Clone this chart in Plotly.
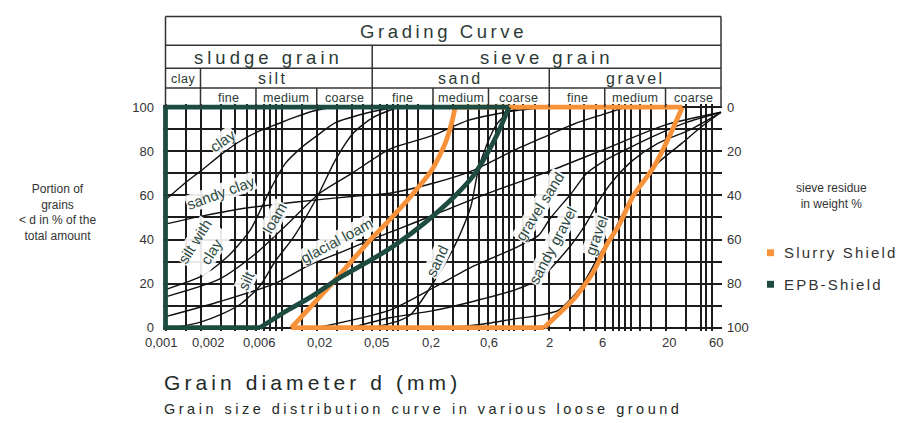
import numpy as np
import plotly.graph_objects as go

W, H = 901, 423

# ---------------- axis data ----------------
x_tick_vals = [0.001, 0.002, 0.006, 0.02, 0.06, 0.2, 0.6, 2, 6, 20, 60]
x_tick_text = ["0,001", "0,002", "0,006", "0,02", "0,05", "0,2", "0,6", "2", "6", "20", "60"]
# horizontal nudge of each tick caption, in pixels
x_tick_shift = [-4, 8, 4, 3, 4, -2, 1, 0, -2, 3, -5]
grid_steps = [1, 1.5, 2, 3, 4, 5, 6, 7, 8, 9]
extra_grid = [0.12, 1.2, 12, 45]
y_ticks = [0, 20, 40, 60, 80, 100]
y_minor = [10, 30, 50, 70, 90]

# ---------------- header classes ----------------
fraction_names = ["sludge grain", "sieve grain"]
fraction_bounds = [0.001, 0.06, 60]
soil_names = ["clay", "silt", "sand", "gravel"]
soil_bounds = [0.001, 0.002, 0.06, 2, 60]
sub_names = ["fine", "medium", "coarse"] * 3
sub_bounds = [0.002, 0.006, 0.02, 0.06, 0.2, 0.6, 2, 6, 20, 60]

# ---------------- grading curves (d in mm, passing in %) ----------------
clay_d = [0.001, 0.0015, 0.002, 0.003, 0.0042, 0.006, 0.0093, 0.013, 0.0195, 0.027]
clay_p = [58, 66, 71, 78.5, 84, 88.5, 92.5, 95.5, 98.5, 100]

sandy_clay_d = [0.001, 0.002, 0.004, 0.009, 0.02, 0.04, 0.085, 0.2, 0.45, 1.0, 2.0, 3.3, 6.0, 9.0]
sandy_clay_p = [47, 50.5, 53.5, 56, 58, 59.5, 61, 65.5, 71.5, 80.5, 87.5, 92.5, 97, 100]

silt_clay_d = [0.001, 0.0021, 0.0035, 0.0054, 0.0078, 0.0107, 0.015, 0.02, 0.029, 0.055, 0.094]
silt_clay_p = [17.3, 23.7, 32.7, 44.6, 61.7, 74.4, 82, 87, 93, 97.5, 100]

loam_d = [0.001, 0.0029, 0.0061, 0.0107, 0.0212, 0.04, 0.085, 0.2, 0.4, 1.0, 2.0]
loam_p = [14, 22, 34, 46, 61, 70, 81, 87.2, 94, 98.4, 100]

glacial_loam_d = [0.001, 0.003, 0.0087, 0.0171, 0.0325, 0.0612, 0.093, 0.2, 0.6, 2, 6, 20, 60]
glacial_loam_p = [5, 12, 20, 28.3, 34.3, 40.3, 44, 51, 61, 71, 81, 92, 97.7]

silt_d = [0.0012, 0.002, 0.003, 0.0045, 0.0065, 0.0087, 0.0129, 0.0203, 0.0289, 0.0408, 0.0612, 0.1]
silt_p = [0, 2.5, 6, 11, 19, 29.8, 41.8, 59.6, 76, 88, 95.4, 100]

sand_d = [0.06, 0.1, 0.129, 0.196, 0.26, 0.328, 0.424, 0.49, 0.58, 0.7, 0.9, 1.2]
sand_p = [0, 3, 6, 19.4, 30, 40.3, 55.2, 71.6, 83, 92, 98, 100]

gravel_sand_d = [0.02, 0.085, 0.2, 0.45, 1.0, 1.63, 2.0, 3.1, 4.2, 6.1, 9.3, 16, 30, 60]
gravel_sand_p = [0, 8, 18, 28, 36, 42, 49, 61, 70, 76, 81, 87, 93, 97.7]

sandy_gravel_d = [0.04, 0.085, 0.196, 0.45, 1.0, 1.63, 2.9, 4.2, 5.4, 6.9, 10.5, 17, 33, 60]
sandy_gravel_p = [0, 4.5, 7.6, 12, 17, 22, 35.8, 47.7, 58, 66, 76, 83.5, 90, 97.7]

gravel_d = [0.3, 0.6, 1.0, 1.6, 2.41, 3.7, 5.37, 7.08, 9.27, 15.9, 27.4, 40.5, 60]
gravel_p = [0, 2, 4, 5.5, 8, 18, 32.8, 43, 55, 73, 83.5, 91, 97.7]

# ---------------- machine application ranges ----------------
# slurry shield: fine-side and coarse-side limit curves
slurry_fine_d = [0.0121, 0.027, 0.058, 0.085, 0.129, 0.196, 0.254, 0.29, 0.31]
slurry_fine_p = [0, 20, 40, 49, 59.6, 71.6, 83.5, 93, 100]
slurry_coarse_d = [1.8, 3.3, 4.8, 6.3, 7.9, 10.5, 15.9, 20.8, 27.9]
slurry_coarse_p = [0, 13.4, 25.4, 38, 46.2, 59.6, 73, 85, 100]

# EPB shield: fine-side limit curve (coarse side follows the chart edge)
epb_d = [0.0065, 0.0113, 0.0171, 0.0325, 0.0612, 0.093, 0.171, 0.307, 0.452, 0.585, 0.718, 0.853, 0.9]
epb_p = [0, 8, 13.4, 23.1, 31.3, 37.3, 47.7, 59.6, 69.4, 79, 88, 97, 100]
d_min, d_max = 0.001, 60

curves = [
    (clay_d, clay_p), (sandy_clay_d, sandy_clay_p), (silt_clay_d, silt_clay_p),
    (loam_d, loam_p), (glacial_loam_d, glacial_loam_p), (silt_d, silt_p),
    (sand_d, sand_p), (gravel_sand_d, gravel_sand_p), (sandy_gravel_d, sandy_gravel_p),
    (gravel_d, gravel_p),
]

# curve captions: text, grain size, percentage, rotation
curve_labels = [
    ("clay", 0.0031, 85, -35),
    ("sandy clay", 0.003, 61.5, -20),
    ("silt with<br>clay", 0.0021, 37, -58),
    ("loam", 0.0087, 50, -60),
    ("silt", 0.0049, 21.6, -65),
    ("glacial loam", 0.0296, 39.5, -28),
    ("sand", 0.216, 30.6, -65),
    ("gravel sand", 1.68, 55.2, -58),
    ("sandy gravel", 2.13, 37.3, -62),
    ("gravel", 5.07, 41.8, -70),
]

ORANGE = "#f7913a"
GREEN = "#1e4b40"
GRID = "#1c1c1c"
TEXT = "#2c3a36"
FONT = "Liberation Sans, Arial, sans-serif"

# ---------------- geometry ----------------
L_PX, R_PX = 163, 722
PX_PER_DEC = (721 - 165.5) / np.log10(60 / 0.001)
x_range = [np.log10(0.001) - (165.5 - L_PX) / PX_PER_DEC, np.log10(60) + (R_PX - 721) / PX_PER_DEC]
Y0_PX, Y100_PX = 328.0, 104.5
PX_PER_PCT = (Y0_PX - Y100_PX) / 100
y_range = [-1.5, 101.5]
BOT_PX = Y0_PX + 1.5 * PX_PER_PCT
TOP_PX = Y100_PX - 1.5 * PX_PER_PCT
T_MARGIN = 10
paper_h = BOT_PX - T_MARGIN
dom_top = (BOT_PX - TOP_PX) / paper_h


def py(pix):
    return (BOT_PX - pix) / paper_h


def px(pix):
    return (pix - L_PX) / (R_PX - L_PX)


def spaced(text, sp):
    return f'<span style="letter-spacing:{sp}px">{text}</span>'


fig = go.Figure()

for d, p in curves:
    fig.add_trace(go.Scatter(x=d, y=p, mode="lines", hoverinfo="skip", showlegend=False,
                             line=dict(color="#111111", width=1.4, shape="spline", smoothing=0.7)))


def limit_line(d, p, color, shape="spline"):
    fig.add_trace(go.Scatter(x=d, y=p, mode="lines", showlegend=False, hoverinfo="skip",
                             line=dict(color=color, width=4.8, shape=shape, smoothing=0.6)))


# slurry shield range: two limit curves joined along 0 % and 100 %
limit_line(slurry_fine_d, slurry_fine_p, ORANGE)
limit_line(slurry_coarse_d, slurry_coarse_p, ORANGE)
limit_line([slurry_fine_d[0], slurry_coarse_d[0]], [0, 0], ORANGE, "linear")
limit_line([slurry_fine_d[-1], slurry_coarse_d[-1]], [100, 100], ORANGE, "linear")
# EPB shield range: limit curve plus chart edge
limit_line(epb_d, epb_p, GREEN)
limit_line([epb_d[0], d_min, d_min, epb_d[-1]], [0, 0, 100, 100], GREEN, "linear")

# right-hand axis carrier
fig.add_trace(go.Scatter(x=[None], y=[None], yaxis="y2", showlegend=False, hoverinfo="skip"))

minor_x = []
for e in range(-3, 2):
    for m in grid_steps:
        v = round(m * 10 ** e, 6)
        if v <= 60 and v not in x_tick_vals:
            minor_x.append(v)
minor_x += extra_grid

fig.update_layout(
    width=W, height=H, paper_bgcolor="white", plot_bgcolor="white",
    margin=dict(l=L_PX, r=W - R_PX, t=T_MARGIN, b=H - BOT_PX, pad=0),
    font=dict(family=FONT, color="#333333", size=13),
    xaxis=dict(type="log", range=x_range, tickmode="array", tickvals=x_tick_vals, showticklabels=False,
               showgrid=True, gridcolor=GRID, gridwidth=1.6, zeroline=False, showline=False, ticks="",
               minor=dict(tickvals=minor_x, showgrid=True, gridcolor=GRID, gridwidth=1.6, ticks="")),
    yaxis=dict(range=y_range, domain=[0, dom_top], tickmode="array", tickvals=y_ticks,
               showgrid=True, gridcolor=GRID, gridwidth=1.6, zeroline=False, showline=False, ticks="",
               ticklabelstandoff=8, tickfont=dict(size=13, color="#333333"),
               minor=dict(tickvals=y_minor, showgrid=True, gridcolor=GRID, gridwidth=1.6, ticks="")),
    yaxis2=dict(range=y_range[::-1], domain=[0, dom_top], overlaying="y", side="right",
                tickmode="array", tickvals=y_ticks, showgrid=False, zeroline=False, showline=False,
                ticks="", ticklabelstandoff=4, tickfont=dict(size=13, color="#333333")),
)

# ---------------- header table ----------------
row_px = [12.5, 41.7, 65.0, 85.0, Y100_PX]
hline = dict(color="#333333", width=1.5)
shapes = []
for r in row_px[:-1]:
    shapes.append(dict(type="line", xref="x", yref="paper", x0=d_min, x1=d_max, y0=py(r), y1=py(r), line=hline))
for xv in (d_min, d_max):
    shapes.append(dict(type="line", xref="x", yref="paper", x0=xv, x1=xv, y0=py(row_px[0]), y1=py(Y100_PX), line=hline))
shapes.append(dict(type="line", xref="x", yref="paper", x0=0.06, x1=0.06, y0=py(row_px[1]), y1=py(Y100_PX), line=hline))
for xv in (0.002, 2):
    shapes.append(dict(type="line", xref="x", yref="paper", x0=xv, x1=xv, y0=py(row_px[2]), y1=py(Y100_PX), line=hline))
for xv in sub_bounds[1:-1]:
    if xv not in (0.06, 2):
        shapes.append(dict(type="line", xref="x", yref="paper", x0=xv, x1=xv, y0=py(row_px[3]), y1=py(Y100_PX), line=hline))

# legend squares
shapes.append(dict(type="rect", xref="paper", yref="paper", x0=px(767), x1=px(774), y0=py(255.5), y1=py(248.5),
                   fillcolor=ORANGE, line=dict(width=0)))
shapes.append(dict(type="rect", xref="paper", yref="paper", x0=px(767), x1=px(774), y0=py(287.5), y1=py(280.5),
                   fillcolor=GREEN, line=dict(width=0)))
fig.update_layout(shapes=shapes)

ann = []

# x tick captions placed on the log axis
for val, txt, sh in zip(x_tick_vals, x_tick_text, x_tick_shift):
    ann.append(dict(x=np.log10(val), y=py(343), xref="x", yref="paper", text=txt, showarrow=False,
                    xshift=sh, xanchor="center", yanchor="middle",
                    font=dict(size=13, color="#333333", family=FONT)))


def header_text(text, lo, hi, row_mid, size, sp=0):
    ann.append(dict(x=np.log10(np.sqrt(lo * hi)), y=py(row_mid), xref="x", yref="paper",
                    text=spaced(text, sp) if sp else text, showarrow=False,
                    font=dict(size=size, color=TEXT, family=FONT), xanchor="center", yanchor="middle"))


header_text("Grading Curve", d_min, d_max, 27.5, 18.5, 3.6)
for i, name in enumerate(fraction_names):
    header_text(name, fraction_bounds[i], fraction_bounds[i + 1], 54, 18.5, 4.0)
for i, name in enumerate(soil_names):
    lo, hi = soil_bounds[i], soil_bounds[i + 1]
    if name == "silt":
        hi = 0.035
    header_text(name, lo, hi, 75.5, 12.5 if name == "clay" else 16, 0.5 if name == "clay" else 2.5)
for i, name in enumerate(sub_names):
    header_text(name, sub_bounds[i], sub_bounds[i + 1], 95, 12.5, 0.3)

# curve captions sit on a white patch so the grid does not run through the letters
for text, d, p, ang in curve_labels:
    ann.append(dict(x=np.log10(d), y=p, xref="x", yref="y", text=text, showarrow=False, textangle=ang,
                    bgcolor="rgba(255,255,255,0.9)", borderpad=0,
                    font=dict(size=15, color="#2d4a43", family=FONT), xanchor="center", yanchor="middle"))


def paper_text(text, xpix, ypix, size, color="#333333", xanchor="center"):
    ann.append(dict(x=px(xpix), y=py(ypix), xref="paper", yref="paper", showarrow=False, align="center",
                    text=text, xanchor=xanchor, yanchor="middle",
                    font=dict(size=size, color=color, family=FONT)))


paper_text("Portion of<br>grains<br>&lt; d in % of the<br>total amount", 57, 211, 12)
paper_text("sieve residue<br>in weight %", 831, 195, 12)
paper_text(spaced("Slurry Shield", 2.2), 782, 252, 15, xanchor="left")
paper_text(spaced("EPB-Shield", 2.2), 782, 284, 15, xanchor="left")
paper_text(spaced("Grain diameter d (mm)", 4.1), 162, 384, 21, "#1e2a27", "left")
paper_text(spaced("Grain size distribution curve in various loose ground", 3.5), 162, 410, 14.5, "#1e2a27", "left")

fig.update_layout(annotations=ann)

fig.write_html("out.html")
